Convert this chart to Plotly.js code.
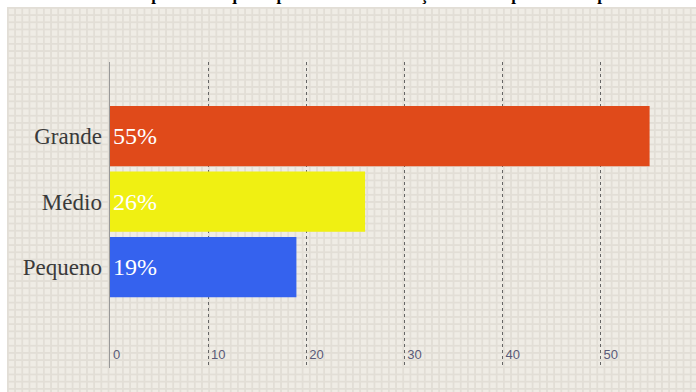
<!DOCTYPE html>
<html>
<head>
<meta charset="utf-8">
<script src="https://cdn.plot.ly/plotly-3.0.1.min.js"></script>
<style>
  html, body { margin: 0; padding: 0; background: #ffffff; }
  #wrap { position: relative; width: 696px; height: 392px; overflow: hidden; }
  #grid {
    position: absolute; left: 7px; top: 7px; right: 0; bottom: 0;
    background-color: #EFECE5;
    background-image:
      linear-gradient(#E2DED6 2px, transparent 2px),
      linear-gradient(90deg, #E2DED6 2px, transparent 2px);
    background-size: 7.2px 7.2px;
  }
  #chart { position: absolute; left: 0; top: 0; width: 696px; height: 392px; }
</style>
</head>
<body>
<div id="wrap">
  <div id="grid"></div>
  <div id="chart"></div>
</div>
<script>
const categories = ['Pequeno', 'Médio', 'Grande'];
const values = [19, 26, 55];
const barColors = ['#3562EE', '#F0F012', '#E04A1A'];
const tickValues = [0, 10, 20, 30, 40, 50];
const tickLabels = ['0', '10', '20', '30', '40', '50'];
const titleText = 'Número total das empresas em que se presta mais de serviços em cada porte de empresa';

const trace = {
  type: 'bar',
  orientation: 'h',
  y: categories,
  x: values,
  marker: { color: barColors, line: { width: 0 } },
  texttemplate: '%{x}%',
  textposition: 'inside',
  insidetextanchor: 'start',
  textangle: 0,
  textfont: { family: '"Liberation Serif", "Times New Roman", serif', size: 24, color: '#ffffff' },
  hoverinfo: 'none'
};

const layout = {
  width: 696,
  height: 392,
  margin: { l: 110, r: 16, t: 62, b: 24 },
  paper_bgcolor: 'rgba(0,0,0,0)',
  plot_bgcolor: 'rgba(0,0,0,0)',
  showlegend: false,
  bargap: 0.08,
  title: {
    text: '<b>' + titleText + '</b>',
    font: { family: '"Liberation Serif", "Times New Roman", serif', size: 17, color: '#000000' },
    x: 0, xanchor: 'left', xref: 'container',
    y: 0.9995, yanchor: 'bottom', yref: 'container'
  },
  xaxis: {
    range: [0, 58.1],
    tickvals: tickValues,
    ticktext: tickLabels,
    ticklabelposition: 'inside right',
    ticklabelshift: 3,
    showgrid: true,
    gridcolor: '#666666',
    griddash: 'dot',
    gridwidth: 1,
    zeroline: false,
    showline: false,
    ticks: '',
    tickfont: { family: '"Liberation Sans Narrow", "Liberation Sans", sans-serif', size: 13, color: '#5a5a78' },
    fixedrange: true
  },
  yaxis: {
    type: 'category',
    categoryorder: 'array',
    categoryarray: categories,
    range: [-1.54, 3.13],
    showline: true,
    linecolor: '#999999',
    linewidth: 1.5,
    showgrid: false,
    zeroline: false,
    ticks: '',
    ticklabelstandoff: 2,
    tickfont: { family: '"Liberation Serif", "Times New Roman", serif', size: 23, color: '#3a3a3a' },
    fixedrange: true
  }
};

Plotly.newPlot('chart', [trace], layout, { displayModeBar: false, staticPlot: true });
</script>
</body>
</html>
